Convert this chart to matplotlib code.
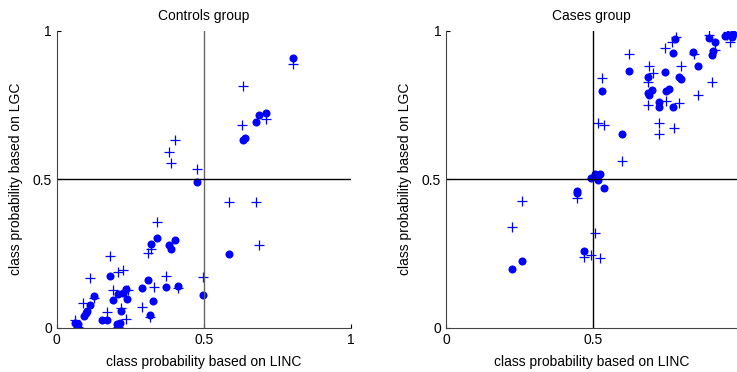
import matplotlib
matplotlib.use("Agg")
import matplotlib.pyplot as plt

plt.rcParams['font.family'] = ['Liberation Sans', 'DejaVu Sans']

# Controls group: probabilities (LINC, LGC)
ctrl_dot_x = [0.805, 0.688, 0.712, 0.678, 0.633, 0.640, 0.478, 0.587, 0.499, 0.341,
              0.321, 0.383, 0.388, 0.404, 0.181, 0.312, 0.289, 0.372, 0.414, 0.329,
              0.317, 0.128, 0.113, 0.102, 0.094, 0.100, 0.193, 0.210, 0.224, 0.236,
              0.239, 0.218, 0.153, 0.170, 0.204, 0.215, 0.062, 0.074]
ctrl_dot_y = [0.908, 0.717, 0.722, 0.694, 0.633, 0.640, 0.490, 0.247, 0.110, 0.303,
              0.282, 0.279, 0.264, 0.297, 0.174, 0.160, 0.133, 0.138, 0.142, 0.089,
              0.043, 0.108, 0.076, 0.056, 0.039, 0.048, 0.092, 0.112, 0.116, 0.130,
              0.097, 0.056, 0.026, 0.027, 0.011, 0.015, 0.015, 0.011]
ctrl_plus_x = [0.805, 0.635, 0.712, 0.630, 0.402, 0.383, 0.388, 0.477, 0.587, 0.679,
               0.688, 0.499, 0.341, 0.320, 0.312, 0.181, 0.113, 0.210, 0.224, 0.193,
               0.244, 0.128, 0.091, 0.331, 0.372, 0.414, 0.289, 0.317, 0.172, 0.236,
               0.210, 0.062, 0.074, 0.218]
ctrl_plus_y = [0.888, 0.813, 0.703, 0.683, 0.633, 0.593, 0.556, 0.535, 0.425, 0.422,
               0.279, 0.170, 0.357, 0.265, 0.251, 0.242, 0.166, 0.189, 0.194, 0.126,
               0.127, 0.101, 0.084, 0.138, 0.175, 0.133, 0.069, 0.037, 0.054, 0.029,
               0.003, 0.026, 0.003, 0.067]

# Cases group
case_dot_x = [0.223, 0.260, 0.469, 0.447, 0.447, 0.494, 0.506, 0.523, 0.518, 0.536,
              0.600, 0.532, 0.621, 0.686, 0.690, 0.687, 0.701, 0.726, 0.723, 0.746,
              0.748, 0.758, 0.772, 0.792, 0.799, 0.772, 0.778, 0.840, 0.856, 0.894,
              0.914, 0.907, 0.905, 0.950, 0.964, 0.973, 0.977]
case_dot_y = [0.197, 0.226, 0.258, 0.461, 0.453, 0.503, 0.517, 0.517, 0.498, 0.471,
              0.652, 0.796, 0.865, 0.846, 0.784, 0.790, 0.800, 0.762, 0.742, 0.863,
              0.799, 0.803, 0.744, 0.846, 0.838, 0.925, 0.972, 0.930, 0.881, 0.975,
              0.964, 0.933, 0.919, 0.984, 0.987, 0.978, 0.989]
case_plus_x = [0.260, 0.223, 0.447, 0.506, 0.468, 0.492, 0.525, 0.600, 0.518, 0.536,
               0.532, 0.622, 0.690, 0.705, 0.686, 0.688, 0.723, 0.726, 0.774, 0.749,
               0.792, 0.746, 0.769, 0.781, 0.798, 0.842, 0.857, 0.905, 0.914, 0.894,
               0.955, 0.966, 0.961]
case_plus_y = [0.428, 0.338, 0.436, 0.319, 0.239, 0.245, 0.234, 0.563, 0.688, 0.683,
               0.840, 0.921, 0.883, 0.857, 0.829, 0.751, 0.689, 0.654, 0.672, 0.764,
               0.758, 0.942, 0.962, 0.978, 0.880, 0.921, 0.783, 0.827, 0.935, 0.987,
               0.987, 0.964, 0.996]

fig = plt.figure(figsize=(7.37, 3.72), dpi=100)
ax1 = fig.add_axes([0.0769, 0.119, 0.399, 0.798])
ax2 = fig.add_axes([0.6052, 0.119, 0.3948, 0.798])


def draw(ax, dx, dy, px, py, title, xmax, vcol):
    ax.plot(dx, dy, 'o', color='#0000ff', markersize=5.8, markeredgewidth=0)
    ax.plot(px, py, '+', color='#0000ff', markersize=7, markeredgewidth=0.9)
    ax.axvline(0.5, color=vcol, linewidth=1)
    ax.axhline(0.5, color='black', linewidth=1)
    ax.set_xlim(0, xmax)
    ax.set_ylim(0, 1)
    ax.set_xticks([t for t in [0, 0.5, 1] if t <= xmax])
    ax.set_xticklabels([l for t, l in zip([0, 0.5, 1], ['0', '0.5', '1']) if t <= xmax])
    ax.set_yticks([0, 0.5, 1])
    ax.set_yticklabels(['0', '0.5', '1'])
    ax.tick_params(direction='in', length=3, labelsize=10, width=0.8)
    ax.spines['top'].set_visible(False)
    ax.spines['right'].set_visible(False)
    for s in ['left', 'bottom']:
        ax.spines[s].set_color('#444444')
    ax.set_xlabel('class probability based on LINC', fontsize=10, labelpad=6)
    ax.set_ylabel('class probability based on LGC', fontsize=10, labelpad=7)
    ax.set_title(title, fontsize=10, pad=8)


draw(ax1, ctrl_dot_x, ctrl_dot_y, ctrl_plus_x, ctrl_plus_y, 'Controls group', 1.0, '#666666')
draw(ax2, case_dot_x, case_dot_y, case_plus_x, case_plus_y, 'Cases group', 0.99, 'black')

fig.savefig('out.png', dpi=100)
